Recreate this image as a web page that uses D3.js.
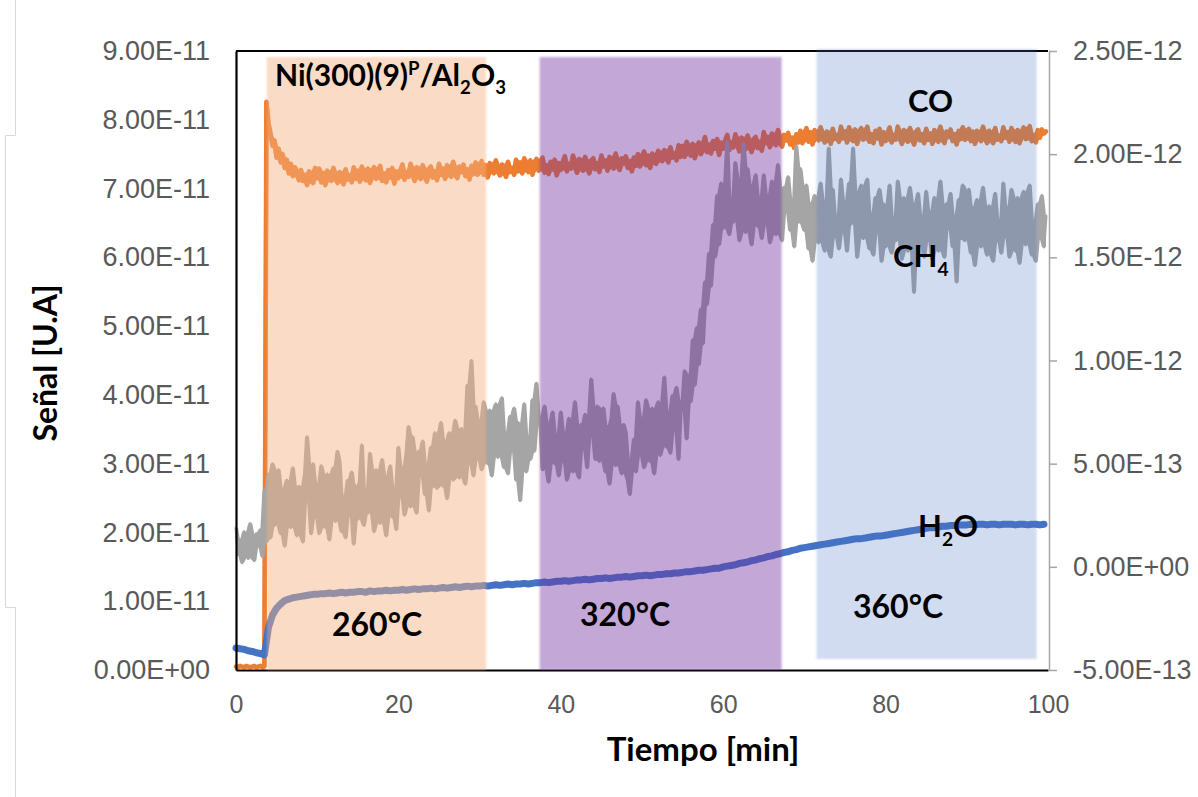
<!DOCTYPE html>
<html>
<head>
<meta charset="utf-8">
<script src="https://cdn.jsdelivr.net/npm/d3@7"></script>
<style>
  body { margin: 0; background: #fff; }
  svg { display: block; }
</style>
</head>
<body>
<svg id="chart" width="1198" height="797"></svg>
<script>
// Mass-spectrometer signals. CO and CH4 are sampled every 0.25 min,
// H2O every 0.5 min, all starting at t = 0 min.
const fastStep = 0.25;
const slowStep = 0.5;

// CO signal (left axis), in units of 1e-11 A — one row per 5 min
const coSignal = [
  0.05,0.04,0.06,0.05,0.04,0.06,0.05,0.04,0.05,0.06,0.04,0.05,0.06,0.04,0.05,8.26,7.95,7.80,7.62,7.70,
  7.45,7.58,7.38,7.50,7.30,7.42,7.22,7.36,7.18,7.31,7.25,7.12,7.27,7.11,7.20,7.05,7.25,7.18,7.08,7.30,
  7.15,7.29,7.09,7.23,7.05,7.26,7.18,7.11,7.30,7.16,7.08,7.24,7.21,7.06,7.28,7.13,7.19,7.09,7.31,7.14,
  7.26,7.10,7.32,7.19,7.12,7.29,7.08,7.24,7.31,7.14,7.17,7.33,7.11,7.22,7.09,7.27,7.16,7.30,7.07,7.25,
  7.15,7.27,7.35,7.13,7.24,7.17,7.36,7.20,7.11,7.31,7.28,7.14,7.34,7.22,7.10,7.29,7.32,7.16,7.25,7.12,
  7.36,7.20,7.29,7.14,7.34,7.27,7.17,7.39,7.22,7.15,7.32,7.24,7.35,7.18,7.28,7.13,7.33,7.21,7.38,7.20,
  7.26,7.40,7.20,7.34,7.16,7.37,7.29,7.22,7.41,7.27,7.19,7.35,7.32,7.17,7.39,7.24,7.30,7.20,7.42,7.25,
  7.38,7.22,7.44,7.31,7.24,7.41,7.20,7.36,7.43,7.26,7.29,7.45,7.23,7.34,7.21,7.39,7.28,7.42,7.19,7.37,
  7.27,7.39,7.47,7.25,7.36,7.29,7.48,7.32,7.23,7.43,7.40,7.26,7.46,7.34,7.22,7.41,7.44,7.28,7.37,7.24,
  7.48,7.32,7.41,7.26,7.46,7.39,7.29,7.51,7.34,7.27,7.44,7.36,7.47,7.30,7.40,7.25,7.45,7.33,7.50,7.32,
  7.40,7.54,7.34,7.48,7.30,7.51,7.43,7.36,7.55,7.41,7.40,7.56,7.53,7.38,7.60,7.45,7.51,7.41,7.63,7.46,
  7.62,7.46,7.68,7.55,7.48,7.65,7.44,7.60,7.67,7.50,7.59,7.75,7.53,7.64,7.51,7.69,7.58,7.72,7.49,7.67,
  7.58,7.70,7.78,7.56,7.67,7.60,7.79,7.63,7.54,7.74,7.71,7.57,7.77,7.65,7.53,7.72,7.75,7.59,7.68,7.55,
  7.82,7.66,7.75,7.60,7.80,7.73,7.63,7.85,7.68,7.61,7.78,7.70,7.81,7.64,7.74,7.59,7.79,7.67,7.84,7.66,
  7.74,7.88,7.68,7.82,7.64,7.85,7.77,7.70,7.89,7.75,7.67,7.83,7.80,7.65,7.87,7.72,7.78,7.68,7.90,7.73,
  7.83,7.67,7.89,7.76,7.69,7.86,7.65,7.81,7.88,7.71,7.74,7.90,7.68,7.79,7.66,7.84,7.73,7.87,7.64,7.82,
  7.69,7.81,7.89,7.67,7.78,7.71,7.90,7.74,7.65,7.85,7.82,7.68,7.88,7.76,7.64,7.83,7.86,7.70,7.79,7.66,
  7.87,7.71,7.80,7.65,7.85,7.78,7.68,7.90,7.73,7.66,7.83,7.75,7.86,7.69,7.79,7.64,7.84,7.72,7.89,7.71,
  7.73,7.87,7.69,7.83,7.65,7.84,7.78,7.69,7.90,7.74,7.66,7.84,7.79,7.66,7.88,7.71,7.77,7.69,7.89,7.74,
  7.82,7.68,7.88,7.77,7.68,7.85,7.66,7.80,7.89,7.72,7.73,7.91,7.69,7.78,7.67,7.85,7.74,7.86,7.80,7.83
];

// CH4 signal (right axis), in units of 1e-12 A — one row per 5 min
const ch4Signal = [
  0.19,0.06,0.13,0.02,0.17,0.12,0.04,0.21,0.08,0.03,0.16,0.10,0.18,0.05,0.37,0.12,0.45,0.14,0.50,0.20,
  0.25,0.47,0.16,0.38,0.10,0.42,0.30,0.19,0.48,0.27,0.15,0.39,0.35,0.12,0.45,0.63,0.32,0.16,0.50,0.24,
  0.40,0.16,0.49,0.29,0.19,0.45,0.13,0.37,0.48,0.22,0.56,0.51,0.17,0.34,0.14,0.42,0.25,0.46,0.11,0.39,
  0.23,0.41,0.59,0.20,0.37,0.26,0.55,0.30,0.17,0.47,0.43,0.21,0.52,0.33,0.15,0.44,0.49,0.24,0.38,0.18,
  0.58,0.34,0.48,0.25,0.55,0.68,0.29,0.63,0.37,0.26,0.56,0.44,0.61,0.35,0.50,0.27,0.58,0.39,0.65,0.38,
  0.48,0.70,0.39,0.61,0.33,0.65,0.53,0.42,0.71,0.50,0.43,0.67,0.63,0.40,0.88,0.50,1.00,0.44,0.78,0.52,
  0.71,0.47,0.80,0.60,0.50,0.76,0.44,0.68,0.79,0.53,0.57,0.82,0.48,0.65,0.45,0.73,0.56,0.77,0.42,0.70,
  0.32,0.67,0.79,0.46,0.63,0.52,0.81,0.56,0.89,0.73,0.69,0.47,0.78,0.59,0.41,0.70,0.75,0.50,0.64,0.44,
  0.75,0.51,0.65,0.42,0.72,0.62,0.46,0.80,0.54,0.43,0.69,0.57,0.74,0.48,0.63,0.91,0.71,0.52,0.78,0.51,
  0.55,0.77,0.46,0.68,0.40,0.72,0.84,0.49,0.78,0.57,0.45,0.69,0.65,0.42,0.35,0.52,0.62,0.46,0.80,0.54,
  0.72,0.48,0.81,0.61,0.51,0.77,0.45,0.69,0.80,0.54,0.67,0.92,0.58,0.75,0.55,0.83,0.66,0.87,0.52,0.80,
  0.76,0.95,0.62,0.93,0.80,1.10,0.88,1.16,0.98,1.25,1.08,1.38,1.27,1.52,1.36,1.66,1.50,1.80,1.56,1.86,
  1.64,1.82,2.06,1.61,1.78,1.67,1.96,1.71,1.58,1.88,2.05,1.62,1.93,1.74,1.56,1.85,1.90,1.65,1.79,1.59,
  1.90,1.66,1.80,1.57,1.87,1.77,1.61,1.95,1.69,1.58,1.84,1.72,1.89,1.63,1.78,1.55,2.04,1.67,1.93,1.66,
  1.63,1.85,1.54,1.76,1.48,1.80,1.68,1.57,1.86,1.65,1.53,1.77,2.03,1.50,1.83,1.60,1.70,1.54,1.88,1.62,
  1.77,1.53,1.86,1.66,2.03,1.82,1.50,1.74,1.85,1.59,1.63,1.88,1.54,1.71,1.51,1.79,1.62,1.83,1.48,1.76,
  1.55,1.73,1.85,1.52,1.69,1.58,1.87,1.62,1.49,1.79,1.75,1.53,1.84,1.65,1.33,1.76,1.81,1.56,1.70,1.50,
  1.82,1.58,1.72,1.49,1.79,1.69,1.53,1.87,1.61,1.50,1.76,1.64,1.81,1.55,1.70,1.38,1.78,1.59,1.85,1.58,
  1.61,1.83,1.52,1.74,1.46,1.78,1.66,1.55,1.84,1.63,1.51,1.75,1.71,1.48,1.81,1.58,1.68,1.52,1.86,1.60,
  1.74,1.50,1.83,1.63,1.53,1.79,1.47,1.71,1.82,1.56,1.60,1.85,1.51,1.68,1.48,1.76,1.59,1.80,1.55,1.70
];

// H2O signal (left axis), in units of 1e-11 A
const h2oSignal = [
  0.32,0.31,0.30,0.28,0.27,0.25,0.24,0.22,
  0.62,0.80,0.90,0.96,1.01,1.03,1.05,1.06,1.07,1.08,1.09,1.10,1.10,
  1.11,1.11,1.12,1.11,1.12,1.13,1.12,1.13,1.13,1.14,
  1.14,1.13,1.15,1.14,1.15,1.15,1.16,1.15,1.16,1.16,
  1.17,1.16,1.17,1.18,1.17,1.18,1.18,1.19,1.18,1.19,
  1.20,1.19,1.20,1.21,1.20,1.21,1.22,1.21,1.22,1.22,
  1.23,1.22,1.23,1.24,1.23,1.24,1.25,1.24,1.25,1.25,
  1.26,1.25,1.26,1.27,1.27,1.28,1.27,1.28,1.29,1.29,
  1.30,1.29,1.30,1.31,1.31,1.32,1.31,1.32,1.33,1.33,
  1.34,1.33,1.34,1.35,1.35,1.36,1.35,1.36,1.37,1.37,
  1.38,1.37,1.38,1.39,1.39,1.40,1.40,1.41,1.41,1.42,
  1.43,1.43,1.44,1.45,1.45,1.46,1.47,1.48,1.48,1.50,
  1.51,1.52,1.53,1.55,1.56,1.57,1.59,1.60,1.62,1.63,
  1.65,1.66,1.68,1.69,1.71,1.72,1.74,1.75,1.77,1.78,
  1.79,1.80,1.81,1.82,1.83,1.84,1.85,1.86,1.87,1.88,
  1.89,1.90,1.91,1.91,1.92,1.93,1.94,1.95,1.95,1.96,
  1.97,1.98,1.99,2.00,2.01,2.02,2.03,2.04,2.05,2.06,
  2.07,2.07,2.08,2.09,2.09,2.10,2.10,2.11,2.11,2.11,
  2.12,2.11,2.12,2.12,2.11,2.12,2.12,2.11,2.12,2.12,
  2.12,2.11,2.12,2.12,2.11,2.12,2.12,2.11,2.12
];

// Temperature stages (minutes)
const stageLabels = ["260°C", "320°C", "360°C"];
const stageStart  = [3.8, 37.4, 71.5];
const stageEnd    = [30.8, 67.2, 98.6];

// Axis ticks
const timeTicks = [0, 20, 40, 60, 80, 100];
const leftTicks = [0, 1e-11, 2e-11, 3e-11, 4e-11, 5e-11, 6e-11, 7e-11, 8e-11, 9e-11];
const leftTickLabels = ["0.00E+00","1.00E-11","2.00E-11","3.00E-11","4.00E-11",
                        "5.00E-11","6.00E-11","7.00E-11","8.00E-11","9.00E-11"];
const rightTicks = [-5e-13, 0, 5e-13, 1e-12, 1.5e-12, 2e-12, 2.5e-12];
const rightTickLabels = ["-5.00E-13","0.00E+00","5.00E-13","1.00E-12",
                         "1.50E-12","2.00E-12","2.50E-12"];

// ---------------------------------------------------------------
const svg = d3.select("#chart");
const plotLeft = 236, plotRight = 1048, plotTop = 51, plotBottom = 670;

const x = d3.scaleLinear().domain([0, 100]).range([plotLeft, plotRight]);
const yL = d3.scaleLinear().domain([0, 9e-11]).range([plotBottom, plotTop]);
const yR = d3.scaleLinear().domain([-5e-13, 2.5e-12]).range([plotBottom, plotTop]);

const tickFont = "'Liberation Sans', Arial, sans-serif";
const boldFont = "Lato, 'Open Sans', sans-serif";

// faint page guide lines at the far left
svg.append("path")
  .attr("d", "M15.5,0 V135.5 H5.5 V607.5 H15.5 V797")
  .attr("fill", "none").attr("stroke", "#d9d9d9").attr("stroke-width", 1);

const defs = svg.append("defs");
defs.append("filter").attr("id", "soft")
  .attr("x", "-5%").attr("y", "-5%").attr("width", "110%").attr("height", "110%")
  .append("feGaussianBlur").attr("stdDeviation", 1.2);

// series: each noisy trace is a line plus the filled spread of its neighbouring samples
const toPoints = (arr, step, unit) => arr.map((v, i) => [i * step, v * unit]);
const spread = (arr, step, unit) => arr.map((v, i) => {
  const w = arr.slice(Math.max(0, i - 1), i + 2);
  return [i * step, d3.min(w) * unit, d3.max(w) * unit];
});

const lineL = d3.line().x(d => x(d[0])).y(d => yL(d[1]));
const lineR = d3.line().x(d => x(d[0])).y(d => yR(d[1]));
const areaL = d3.area().x(d => x(d[0])).y0(d => yL(d[1])).y1(d => yL(d[2]));
const areaR = d3.area().x(d => x(d[0])).y0(d => yR(d[1])).y1(d => yR(d[2]));

const series = svg.append("g")
  .attr("stroke-linejoin", "round").attr("stroke-linecap", "round");

function noisyTrace(arr, step, unit, line, area, color, width) {
  series.append("path").datum(spread(arr, step, unit))
    .attr("d", area).attr("fill", color).attr("stroke", "none");
  series.append("path").datum(toPoints(arr, step, unit))
    .attr("d", line).attr("fill", "none").attr("stroke", color).attr("stroke-width", width);
}

noisyTrace(coSignal, fastStep, 1e-11, lineL, areaL, "#ed7d31", 4.6);
noisyTrace(ch4Signal, fastStep, 1e-12, lineR, areaR, "#a5a5a5", 3);

series.append("path")
  .datum(toPoints(h2oSignal, slowStep, 1e-11))
  .attr("d", lineL).attr("fill", "none").attr("stroke", "#4472c4").attr("stroke-width", 7);

// axes frame
svg.append("line").attr("x1", plotLeft).attr("x2", plotRight)
  .attr("y1", plotTop).attr("y2", plotTop)
  .attr("stroke", "#000").attr("stroke-width", 2);

const axL = svg.append("g").attr("transform", `translate(${plotLeft},0)`)
  .call(d3.axisLeft(yL).tickValues(leftTicks).tickSize(0).tickPadding(26)
    .tickFormat((d, i) => leftTickLabels[i]));
axL.select(".domain").attr("stroke", "#000").attr("stroke-width", 2.2);
axL.selectAll("text").attr("font-family", tickFont).attr("font-size", 27).attr("fill", "#595959");

const axB = svg.append("g").attr("transform", `translate(0,${plotBottom})`)
  .call(d3.axisBottom(x).tickValues(timeTicks).tickSize(0).tickPadding(25)
    .tickFormat(d3.format("d")));
axB.select(".domain").attr("stroke", "#000").attr("stroke-width", 2.2);
axB.selectAll("text").attr("font-family", tickFont).attr("font-size", 25).attr("fill", "#595959");

const axR = svg.append("g").attr("transform", `translate(${plotRight + 1},0)`)
  .call(d3.axisRight(yR).tickValues(rightTicks).tickSize(8).tickSizeOuter(0).tickPadding(16)
    .tickFormat((d, i) => rightTickLabels[i]));
axR.select(".domain").attr("stroke", "#a6a6a6").attr("stroke-width", 1.5);
axR.selectAll(".tick line").attr("stroke", "#a6a6a6").attr("stroke-width", 1.5);
axR.selectAll("text").attr("font-family", tickFont).attr("font-size", 27).attr("fill", "#595959");

// temperature stage bands, laid over the traces
const bandColor = ["#f4b183", "#7030a0", "#4472c4"];
const bandAlpha = [0.46, 0.42, 0.25];
const bandTop = [57, 57, 49];
const bandBottom = [plotBottom, plotBottom, 659];
svg.append("g").attr("filter", "url(#soft)")
  .selectAll("rect").data(stageLabels).join("rect")
  .attr("x", (d, i) => x(stageStart[i]))
  .attr("width", (d, i) => x(stageEnd[i]) - x(stageStart[i]))
  .attr("y", (d, i) => bandTop[i])
  .attr("height", (d, i) => bandBottom[i] - bandTop[i])
  .attr("fill", (d, i) => bandColor[i])
  .attr("fill-opacity", (d, i) => bandAlpha[i]);

// stage labels
const labelY = [636, 626, 618];
const labelX = [332, 580, 853];
svg.append("g").selectAll("text").data(stageLabels).join("text")
  .attr("x", (d, i) => labelX[i]).attr("y", (d, i) => labelY[i])
  .attr("font-family", boldFont).attr("font-weight", 700).attr("font-size", 32)
  .attr("fill", "#000").text(d => d);

// text with sub/superscripts
function richText(xp, yp, size, parts) {
  const t = svg.append("text").attr("x", xp).attr("y", yp)
    .attr("font-family", boldFont).attr("font-weight", 700)
    .attr("font-size", size).attr("fill", "#000");
  let shift = 0;
  parts.forEach(p => {
    const target = p.sub ? size * 0.28 : p.sup ? -size * 0.36 : 0;
    t.append("tspan").attr("dy", target - shift)
      .attr("font-size", (p.sub || p.sup) ? size * 0.62 : size)
      .text(p.t);
    shift = target;
  });
  return t;
}

richText(275, 86, 30, [{t: "Ni(300)(9)"}, {t: "P", sup: true}, {t: "/Al"}, {t: "2", sub: true}, {t: "O"}, {t: "3", sub: true}]);
richText(908, 112, 31, [{t: "CO"}]);
richText(893, 267, 31, [{t: "CH"}, {t: "4", sub: true}]);
richText(918, 537, 31, [{t: "H"}, {t: "2", sub: true}, {t: "O"}]);

// axis titles
svg.append("text")
  .attr("transform", "translate(57,363) rotate(-90)")
  .attr("text-anchor", "middle")
  .attr("font-family", boldFont).attr("font-weight", 700).attr("font-size", 32)
  .attr("fill", "#000").text("Señal [U.A]");

svg.append("text")
  .attr("x", 703).attr("y", 761).attr("text-anchor", "middle")
  .attr("font-family", boldFont).attr("font-weight", 700).attr("font-size", 33)
  .attr("fill", "#000").text("Tiempo [min]");
</script>
</body>
</html>
